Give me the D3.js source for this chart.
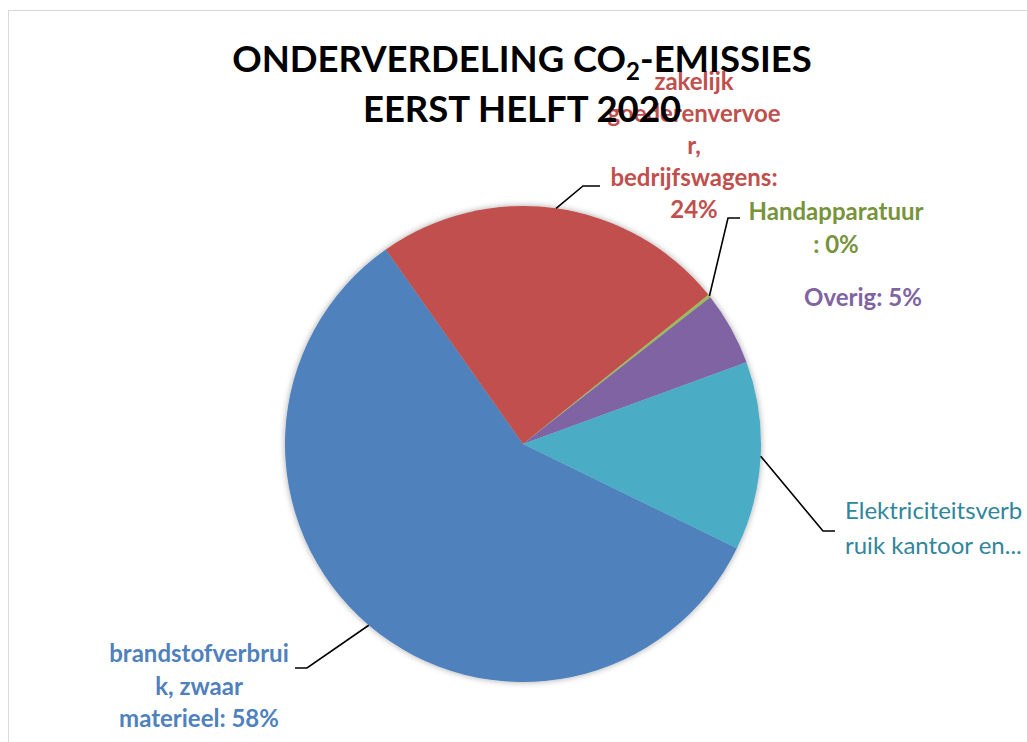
<!DOCTYPE html>
<html>
<head>
<meta charset="utf-8">
<script src="https://cdn.jsdelivr.net/npm/d3@7"></script>
<style>
  html, body { margin: 0; padding: 0; background: #fff; }
  svg { display: block; font-family: Lato, "Open Sans", sans-serif; }
</style>
</head>
<body>
<svg id="chart" width="1027" height="742"></svg>
<script>
const categories = [
  'brandstofverbruik, zwaar materieel',
  'zakelijk goederenvervoer, bedrijfswagens',
  'Handapparatuur',
  'Overig',
  'Elektriciteitsverbruik kantoor en...'
];
const values = [58, 24, 0.2, 5, 12.8];
const labelLines = [
  ['brandstofverbrui', 'k, zwaar', 'materieel: 58%'],
  ['zakelijk', 'goederenvervoe', 'r,', 'bedrijfswagens:', '24%'],
  ['Handapparatuur', ': 0%'],
  ['Overig: 5%'],
  ['Elektriciteitsverb', 'ruik kantoor en...']
];

const sliceColors = ['#4F81BD', '#C0504D', '#9BBB59', '#8064A2', '#4BACC6'];
const textColors = ['#4F81BD', '#C0504D', '#77933C', '#8064A2', '#31859C'];

// label placement (Excel put them by hand)
const labelLayout = [
  { x: 199, y: 662, anchor: 'middle', weight: 700, lh: 32.5, elbow: [307, 668], end: [295, 668] },
  { x: 694, y: 90, anchor: 'middle', weight: 700, lh: 32, elbow: [583, 186], end: [600, 186] },
  { x: 836, y: 220, anchor: 'middle', weight: 700, lh: 33, elbow: [728, 218], end: [740, 218] },
  { x: 863, y: 306, anchor: 'middle', weight: 700, lh: 32 },
  { x: 845, y: 519, anchor: 'start', weight: 400, lh: 35, elbow: [823, 531], end: [835, 531] }
];

const svg = d3.select('#chart');
const cx = 523, cy = 444, r = 238;

// chart area border
svg.append('rect')
  .attr('x', 8.5).attr('y', 10.5)
  .attr('width', 1100).attr('height', 800)
  .attr('fill', 'none')
  .attr('stroke', '#D9D9D9');

const defs = svg.append('defs');
defs.append('filter')
  .attr('id', 'shadow')
  .attr('x', '-10%').attr('y', '-10%').attr('width', '120%').attr('height', '120%')
  .append('feDropShadow')
  .attr('dx', 0).attr('dy', 0)
  .attr('stdDeviation', 3)
  .attr('flood-color', '#000')
  .attr('flood-opacity', 0.35);

const start = 116 * Math.PI / 180;
const pie = d3.pie().sort(null).value((d) => d)
  .startAngle(start).endAngle(start + 2 * Math.PI);
const arcs = pie(values);
const arc = d3.arc().innerRadius(0).outerRadius(r);

const g = svg.append('g').attr('transform', `translate(${cx},${cy})`);

g.append('g')
  .attr('filter', 'url(#shadow)')
  .selectAll('path')
  .data(arcs)
  .join('path')
  .attr('d', arc)
  .attr('fill', (d, i) => sliceColors[i]);

// leader lines from the slice edge
const edge = d3.arc().innerRadius(r).outerRadius(r);
svg.append('g')
  .selectAll('polyline')
  .data(arcs.filter((d, i) => labelLayout[i].elbow))
  .join('polyline')
  .attr('points', (d) => {
    const L = labelLayout[d.index];
    const p = edge.centroid(d);
    return [[p[0] + cx, p[1] + cy], L.elbow, L.end].map((q) => q.join(',')).join(' ');
  })
  .attr('fill', 'none')
  .attr('stroke', '#000')
  .attr('stroke-width', 1.6);

// data labels
const labels = svg.append('g')
  .selectAll('text')
  .data(labelLines)
  .join('text')
  .attr('x', (d, i) => labelLayout[i].x)
  .attr('y', (d, i) => labelLayout[i].y)
  .attr('text-anchor', (d, i) => labelLayout[i].anchor)
  .attr('font-weight', (d, i) => labelLayout[i].weight)
  .attr('font-size', 24)
  .attr('fill', (d, i) => textColors[i]);

labels.each(function (lines, i) {
  d3.select(this).selectAll('tspan')
    .data(lines)
    .join('tspan')
    .attr('x', labelLayout[i].x)
    .attr('dy', (l, j) => (j === 0 ? 0 : labelLayout[i].lh))
    .text((l) => l);
});

// title on top
const title = svg.append('text')
  .attr('text-anchor', 'middle')
  .attr('font-weight', 700)
  .attr('font-size', 36.5)
  .attr('fill', '#000');

const t1 = title.append('tspan').attr('x', 522).attr('y', 72);
t1.append('tspan').text('ONDERVERDELING CO');
t1.append('tspan').attr('font-size', 24).attr('dy', 8).text('2');
t1.append('tspan').attr('dy', -8).text('-EMISSIES');
title.append('tspan').attr('x', 522).attr('y', 122).text('EERST HELFT 2020');
</script>
</body>
</html>
